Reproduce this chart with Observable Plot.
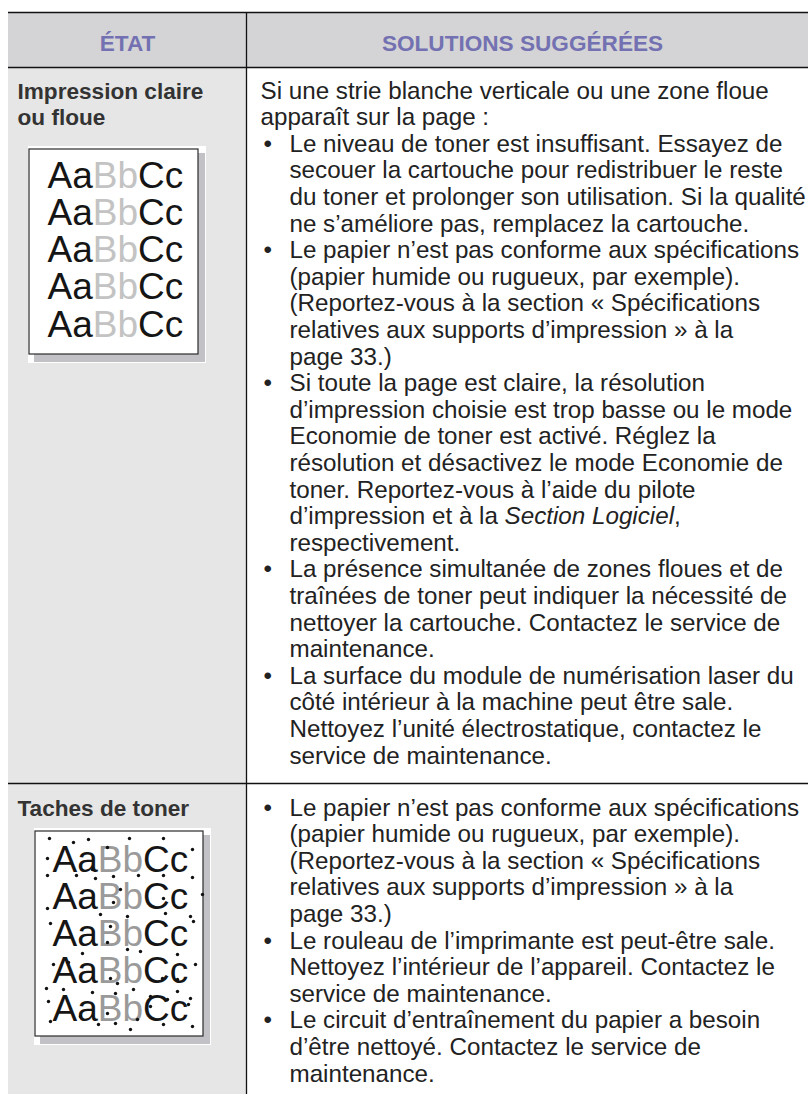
<!DOCTYPE html>
<html>
<head>
<meta charset="utf-8">
<script src="https://cdn.jsdelivr.net/npm/d3@7"></script>
<script src="https://cdn.jsdelivr.net/npm/@observablehq/plot@0.6"></script>
<style>
  html, body { margin: 0; padding: 0; background: #fff; }
  #chart svg { display: block; }
</style>
</head>
<body>
<div id="chart"></div>
<script>
// ---------- DATA ----------
const headers = ["ÉTAT", "SOLUTIONS SUGGÉRÉES"];
const conditions = [
  ["Impression claire", "ou floue"],
  ["Taches de toner"]
];
const row1Intro = [
  "Si une strie blanche verticale ou une zone floue",
  "apparaît sur la page :"
];
const row1Bullets = [
  ["Le niveau de toner est insuffisant. Essayez de",
   "secouer la cartouche pour redistribuer le reste",
   "du toner et prolonger son utilisation. Si la qualité",
   "ne s’améliore pas, remplacez la cartouche."],
  ["Le papier n’est pas conforme aux spécifications",
   "(papier humide ou rugueux, par exemple).",
   "(Reportez-vous à la section « Spécifications",
   "relatives aux supports d’impression » à la",
   "page 33.)"],
  ["Si toute la page est claire, la résolution",
   "d’impression choisie est trop basse ou le mode",
   "Economie de toner est activé. Réglez la",
   "résolution et désactivez le mode Economie de",
   "toner. Reportez-vous à l’aide du pilote",
   ["d’impression et à la ", "*Section Logiciel", ","],
   "respectivement."],
  ["La présence simultanée de zones floues et de",
   "traînées de toner peut indiquer la nécessité de",
   "nettoyer la cartouche. Contactez le service de",
   "maintenance."],
  ["La surface du module de numérisation laser du",
   "côté intérieur à la machine peut être sale.",
   "Nettoyez l’unité électrostatique, contactez le",
   "service de maintenance."]
];
const row2Bullets = [
  ["Le papier n’est pas conforme aux spécifications",
   "(papier humide ou rugueux, par exemple).",
   "(Reportez-vous à la section « Spécifications",
   "relatives aux supports d’impression » à la",
   "page 33.)"],
  ["Le rouleau de l’imprimante est peut-être sale.",
   "Nettoyez l’intérieur de l’appareil. Contactez le",
   "service de maintenance."],
  ["Le circuit d’entraînement du papier a besoin",
   "d’être nettoyé. Contactez le service de",
   "maintenance."]
];
const sampleParts = ["Aa", "Bb", "Cc"];
const sampleRowCount = 5;
// toner spots read from the second sample page (relative to its top-left corner)
const tonerSpots = [
  [14,7],[38,11],[53,8],[94,7],[128,7],[72,16],[157,18],[12,27],[57,38],[12,44],
  [41,44],[60,47],[78,45],[103,44],[128,44],[157,46],[85,58],[167,63],[128,67],[12,77],
  [78,71],[65,83],[92,85],[130,82],[155,85],[75,95],[158,90],[15,92],[72,111],[92,118],
  [105,120],[47,122],[142,123],[18,133],[33,131],[160,133],[75,147],[127,147],[142,148],[82,152],
  [11,157],[28,158],[57,161],[98,158],[80,162],[142,160],[115,165],[155,167],[13,170],[132,168],
  [153,173],[72,182],[115,175],[45,185],[15,190],[63,193],[80,192],[102,188],[128,193],[157,195],
  [95,198]
];

// ---------- LAYOUT ----------
const W = 808, H = 1094;
const L = { left: 8, right: 808, top: 12, headBottom: 67, divX: 246, row2Top: 783 };
const FONT = '"Liberation Sans", Arial, Helvetica, sans-serif';
const bodySize = 24.2, headSize = 22.6, lineH = 26.6;
const textX = 260, bulletX = 263, bulletTextX = 289;
const row1Base = 98, row2Base = 815;
const sampleSize = 37, sampleLH = 37.3;
const boxes = [
  { x: 29, y: 149, w: 169, h: 205, tx: 47, base: 187, mid: "#c3c3c3", spots: false },
  { x: 35, y: 831, w: 168, h: 205, tx: 52, base: 871, mid: "#9a9a9a", spots: true }
];

const ctx = document.createElement("canvas").getContext("2d");
function measure(t, size, style) {
  ctx.font = `${style || ""} ${size}px ${FONT}`;
  return ctx.measureText(t).width;
}

// body lines
const bodyLines = [];
const italicLines = [];
const bullets = [];
function addBlock(y0, intro, blocks) {
  let i = 0;
  for (const t of intro) bodyLines.push({ x: textX, y: y0 + lineH * i++, text: t });
  for (const b of blocks) {
    bullets.push({ x: bulletX, y: y0 + lineH * i });
    for (const ln of b) {
      const y = y0 + lineH * i++;
      if (Array.isArray(ln)) {
        let x = bulletTextX;
        for (const seg of ln) {
          const italic = seg.startsWith("*");
          const t = italic ? seg.slice(1) : seg;
          (italic ? italicLines : bodyLines).push({ x, y, text: t });
          x += measure(t, bodySize, italic ? "italic" : "");
        }
      } else {
        bodyLines.push({ x: bulletTextX, y, text: ln });
      }
    }
  }
}
addBlock(row1Base, row1Intro, row1Bullets);
addBlock(row2Base, [], row2Bullets);

const condLines = [];
conditions.forEach((c, r) => c.forEach((t, i) =>
  condLines.push({ x: 17, y: (r === 0 ? row1Base : row2Base) + lineH * i, text: t })));

const headLines = headers.map((t, i) => ({
  x: i === 0 ? (L.left + L.divX) / 2 : 522, y: 50, text: t
}));

// sample text segments
const sampleSegs = [];
const spots = [];
boxes.forEach(b => {
  for (let r = 0; r < sampleRowCount; r++) {
    let x = b.tx;
    sampleParts.forEach((p, k) => {
      sampleSegs.push({ x, y: b.base + sampleLH * r, text: p, fill: k === 1 ? b.mid : "#151515" });
      x += measure(p, sampleSize, "");
    });
  }
  if (b.spots) tonerSpots.forEach(([dx, dy]) => spots.push({ x: b.x + dx, y: b.y + dy }));
});

const bgRects = [
  { x1: L.left, x2: L.right, y1: L.top, y2: L.headBottom, fill: "#d4d4d6" },
  { x1: L.left, x2: L.divX, y1: L.headBottom, y2: H, fill: "#e6e6e6" }
];
const backRects = boxes.map(b => ({ x1: b.x - 1, x2: b.x + b.w + 8, y1: b.y - 3, y2: b.y + b.h + 9 }));
const shadowRects = boxes.map(b => ({ x1: b.x + 5, x2: b.x + b.w + 7, y1: b.y + 4, y2: b.y + b.h + 8 }));
const pageRects = boxes.map(b => ({ x1: b.x, x2: b.x + b.w, y1: b.y, y2: b.y + b.h }));
const hRules = [L.top, L.headBottom, L.row2Top];

const textOpts = { x: "x", y: "y", text: "text", textAnchor: "start", lineAnchor: "bottom" };

const chart = Plot.plot({
  width: W, height: H, margin: 0,
  x: { type: "linear", domain: [0, W], range: [0, W], axis: null },
  y: { type: "linear", domain: [0, H], range: [0, H], axis: null },
  style: { background: "#fff", fontFamily: FONT },
  marks: [
    Plot.rect(bgRects, { x1: "x1", x2: "x2", y1: "y1", y2: "y2", fill: d => d.fill }),
    Plot.rect(backRects, { x1: "x1", x2: "x2", y1: "y1", y2: "y2", fill: "#ffffff" }),
    Plot.rect(shadowRects, { x1: "x1", x2: "x2", y1: "y1", y2: "y2", fill: "#c2c2c6" }),
    Plot.rect(pageRects, { x1: "x1", x2: "x2", y1: "y1", y2: "y2", fill: "#fff", stroke: "#2a2a2a", strokeWidth: 1.2 }),
    Plot.ruleY(hRules, { y: d => d, x1: () => L.left, x2: () => L.right, stroke: "#111", strokeWidth: 1.3 }),
    Plot.ruleX([L.divX], { x: d => d, y1: () => L.top, y2: () => H, stroke: "#111", strokeWidth: 1.3 }),
    Plot.text(headLines, { ...textOpts, textAnchor: "middle", fontSize: headSize, fontWeight: "bold", fill: "#7371b1" }),
    Plot.text(condLines, { ...textOpts, fontSize: headSize, fontWeight: "bold", fill: "#333" }),
    Plot.text(bodyLines, { ...textOpts, fontSize: bodySize, fill: "#222" }),
    Plot.text(italicLines, { ...textOpts, fontSize: bodySize, fontStyle: "italic", fill: "#222" }),
    Plot.text(bullets, { x: "x", y: "y", text: () => "•", textAnchor: "start", lineAnchor: "bottom", fontSize: bodySize, fill: "#222" }),
    Plot.text(sampleSegs, { ...textOpts, fontSize: sampleSize, fill: d => d.fill }),
    Plot.dot(spots, { x: "x", y: "y", r: 1.7, fill: "#111" })
  ]
});
document.getElementById("chart").appendChild(chart);
</script>
</body>
</html>
